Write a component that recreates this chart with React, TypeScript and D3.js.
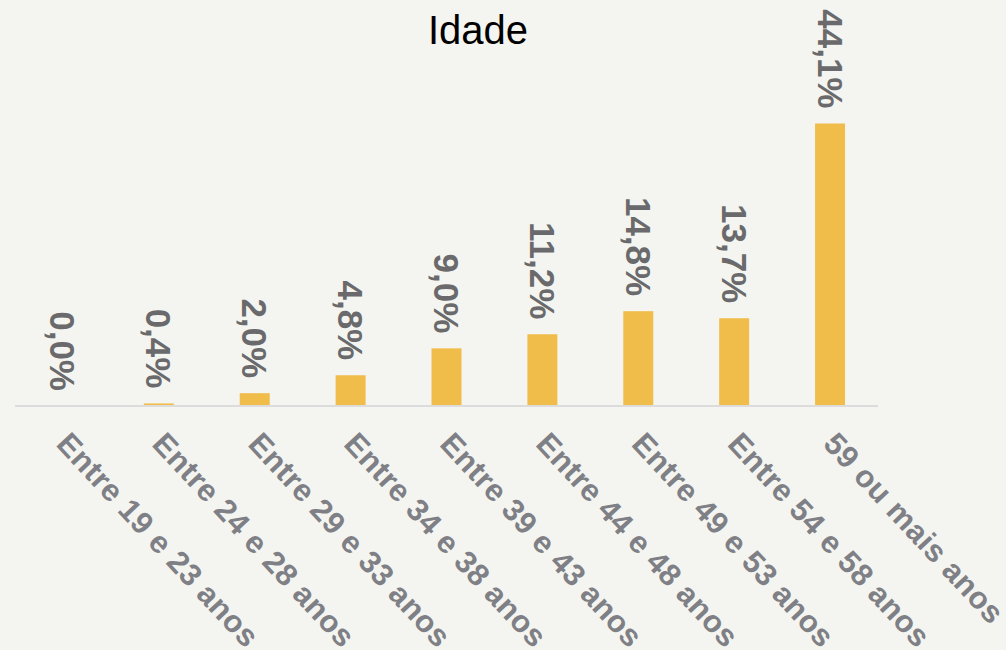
import React, { useEffect, useRef } from 'react';
import * as d3 from 'd3';

const categories = [
  'Entre 19 e 23 anos',
  'Entre 24 e 28 anos',
  'Entre 29 e 33 anos',
  'Entre 34 e 38 anos',
  'Entre 39 e 43 anos',
  'Entre 44 e 48 anos',
  'Entre 49 e 53 anos',
  'Entre 54 e 58 anos',
  '59 ou mais anos',
];
const values = [0.0, 0.4, 2.0, 4.8, 9.0, 11.2, 14.8, 13.7, 44.1];
const title = 'Idade';

const App: React.FC = () => {
  const svgRef = useRef<SVGSVGElement>(null);

  useEffect(() => {
    if (!svgRef.current) return;
    const svg = d3.select(svgRef.current);
    svg.selectAll('*').remove();

    const width = 1006;
    const height = 650;
    const font = '"Liberation Sans", Arial, sans-serif';
    const baseline = 406;

    svg.append('rect')
      .attr('width', width)
      .attr('height', height)
      .attr('fill', '#f4f5f0');

    const data = categories.map((c, i) => ({ c, v: values[i] }));

    const x = d3.scaleBand<string>()
      .domain(categories)
      .range([15, 878])
      .paddingInner(0.6875)
      .paddingOuter(0.34375);

    const y = d3.scaleLinear()
      .domain([0, 50])
      .range([baseline, baseline - 6.406 * 50]);

    // Title
    svg.append('text')
      .attr('x', 478)
      .attr('y', 44)
      .attr('text-anchor', 'middle')
      .attr('font-family', font)
      .attr('font-size', 40)
      .attr('fill', '#000')
      .text(title);

    // Bars
    svg.selectAll('.bar')
      .data(data)
      .enter()
      .append('rect')
      .attr('x', d => x(d.c)!)
      .attr('y', d => y(d.v))
      .attr('width', x.bandwidth())
      .attr('height', d => baseline - y(d.v))
      .attr('fill', '#f0bc4a');

    // Baseline
    svg.append('line')
      .attr('x1', 15)
      .attr('x2', 878)
      .attr('y1', baseline)
      .attr('y2', baseline)
      .attr('stroke', '#dcdcdc')
      .attr('stroke-width', 2);

    // Value labels
    svg.selectAll('.val')
      .data(data)
      .enter()
      .append('text')
      .attr('transform', d => {
        const cx = x(d.c)! + x.bandwidth() / 2 - 12.5;
        const cy = y(d.v) - 15;
        return `translate(${cx},${cy}) rotate(90)`;
      })
      .attr('text-anchor', 'end')
      .attr('font-family', font)
      .attr('font-size', 35)
      .attr('font-weight', 'bold')
      .attr('fill', '#6a6a6c')
      .text(d => d.v.toFixed(1).replace('.', ',') + '%');

    // Category labels
    svg.selectAll('.cat')
      .data(data)
      .enter()
      .append('text')
      .attr('transform', d => {
        const cx = x(d.c)! + x.bandwidth() / 2 - 8;
        return `translate(${cx},445) rotate(47)`;
      })
      .attr('text-anchor', 'start')
      .attr('font-family', font)
      .attr('font-size', 31)
      .attr('letter-spacing', 0.4)
      .attr('font-weight', 'bold')
      .attr('fill', '#7f8086')
      .text(d => d.c);
  }, []);

  return (
    <svg
      ref={svgRef}
      width={1006}
      height={650}
      style={{ position: 'absolute', left: 0, top: 0, display: 'block' }}
    />
  );
};

export default App;
